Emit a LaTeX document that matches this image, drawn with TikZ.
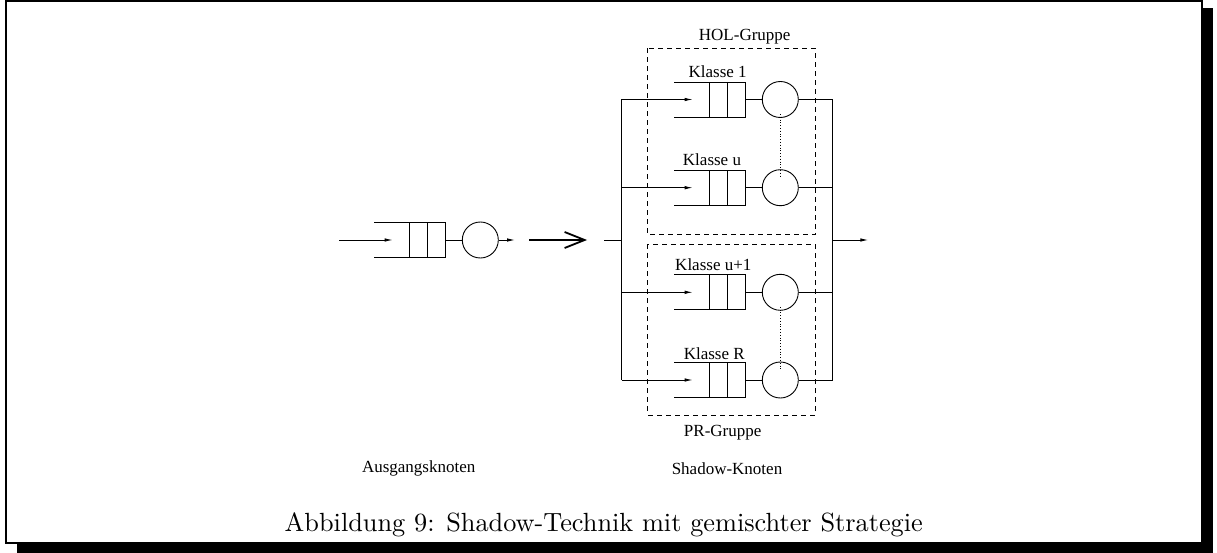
\documentclass[tikz,border=0pt]{standalone}
\usepackage{fontspec}
\newfontfamily\timesf{Liberation Serif}
\usetikzlibrary{arrows.meta}
\begin{document}
\begin{tikzpicture}[x=1pt,y=-1pt,
  ln/.style={line width=0.9pt},
  arr/.style={ln,-{Latex[length=8pt,width=3.5pt]}},
  bigarr/.style={line width=1.8pt,-{Straight Barb[length=20pt,width=16pt,line width=1.8pt]}},
  srv/.style={circle,draw,line width=0.9pt,minimum size=36pt,inner sep=0pt},
  grp/.style={draw,line width=1pt,dash pattern=on 5pt off 4pt},
  lbl/.style={font=\timesf\fontsize{17}{19}\selectfont,inner sep=0pt},
  queue/.pic={
    \draw[ln] (-71,-17.5) -- (0,-17.5) -- (0,17.5) -- (-71,17.5);
    \draw[ln] (-36,-17.5) -- (-36,17.5);
    \draw[ln] (-18,-17.5) -- (-18,17.5);
  }]
\useasboundingbox (0,0) rectangle (1217,553);
% frame with shadow
\fill[black] (1202,8) rectangle (1213,553);
\fill[black] (17,543) rectangle (1213,553);
\draw[line width=2pt] (6,1) rectangle (1202,543);

% Ausgangsknoten
\coordinate (in0) at (339,240);
\coordinate (q0) at (445,240);
\pic at (q0) {queue};
\node[srv] (c0) at (480.3,240) {};
\draw[arr] (in0) -- (392.7,240);
\draw[ln] (q0) -- (c0.west);
\coordinate (out0) at (515,240);
\draw[arr] (c0.east) -- (out0);

% big arrow
\coordinate (ba) at (529,240);
\coordinate (bb) at (587,240);
\draw[bigarr] (ba) -- (bb);

% shadow node
\coordinate (lb) at (621.7,240);
\coordinate (rb) at (832.7,240);
\coordinate (sin) at (604,240);
\draw[ln] (sin) -- (lb);
\draw[ln] (621.7,99.5) -- (621.7,380);
\draw[ln] (832.7,99.5) -- (832.7,380);
\coordinate (sout) at (868.3,240);
\draw[arr] (rb) -- (sout);

\foreach \n/\y in {a/99.5,b/187.7,c/292.3,d/380}{
  \coordinate (q\n) at (745,\y);
  \pic at (q\n) {queue};
  \node[srv] (c\n) at (780.3,\y) {};
  \coordinate (l\n) at (621.7,\y);
  \coordinate (r\n) at (832.7,\y);
  \draw[arr] (l\n) -- (692.7,\y);
  \draw[ln] (q\n) -- (c\n.west);
  \draw[ln] (c\n.east) -- (r\n);
}
\draw[line width=0.8pt,dotted] ([yshift=4pt]ca.south) -- ([yshift=-7pt]cb.north);
\draw[line width=0.8pt,dotted] ([yshift=4pt]cc.south) -- ([yshift=-7pt]cd.north);

% groups
\draw[grp] (647.7,48.3) rectangle (815,235);
\draw[grp] (647.7,244.3) rectangle (815,415);

% labels
\node[lbl] (hol) at (744.7,36.7) {HOL-Gruppe};
\node[lbl] (k1) at (717.7,71.7) {Klasse 1};
\node[lbl] (ku) at (712,160) {Klasse u};
\node[lbl] (ku1) at (713.3,265) {Klasse u+1};
\node[lbl] (kr) at (714.2,353.3) {Klasse R};
\node[lbl] (pr) at (722.7,432.3) {PR-Gruppe};
\node[lbl] (ak) at (418.7,468.3) {Ausgangsknoten};
\node[lbl] (sk) at (727,468.3) {Shadow-Knoten};

% caption
\node[inner sep=0pt,anchor=base] (cap) at (603.8,531.7) {\resizebox{638pt}{!}{\fontsize{10}{12}\selectfont Abbildung 9: Shadow-Technik mit gemischter Strategie}};
\end{tikzpicture}
\end{document}
